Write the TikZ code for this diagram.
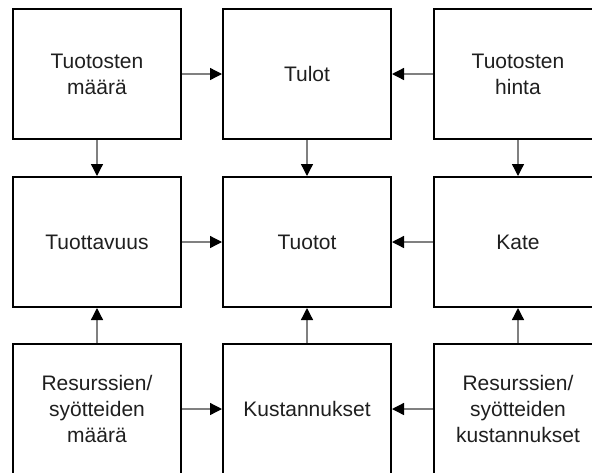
\documentclass[tikz,border=0pt]{standalone}
\usepackage{fontspec}
\setmainfont{Liberation Sans}
\usetikzlibrary{arrows.meta}

\begin{document}
\begin{tikzpicture}[x=1pt,y=-1pt,
  box/.style={draw=black, line width=2pt, fill=white,
    minimum width=168pt, minimum height=130pt, inner sep=0pt,
    align=center, text=black!88,
    font=\fontsize{21}{26}\selectfont},
  link/.style={draw=black!50, line width=1.3pt,
    -{Triangle[length=12pt,width=12pt,fill=black,color=black]}}]
  % page frame; the outer column and row run past its edges
  \useasboundingbox (0,0) rectangle (592,472);
  \clip (0,0) rectangle (592,472);
  \fill[white] (0,0) rectangle (592,472);

  % top row
  \node[box] (tm) at (97,74)  {Tuotosten\\määrä};
  \node[box] (tu) at (307,74) {Tulot};
  \node[box] (th) at (518,74) {Tuotosten\\hinta};
  % middle row
  \node[box] (tv) at (97,242)  {Tuottavuus};
  \node[box] (to) at (307,242) {Tuotot};
  \node[box] (ka) at (518,242) {Kate};
  % bottom row
  \node[box] (rm) at (97,409)  {Resurssien/\\syötteiden\\määrä};
  \node[box] (ku) at (307,409) {Kustannukset};
  \node[box] (rk) at (518,409) {Resurssien/\\syötteiden\\kustannukset};

  % connectors
  \draw[link] (tm.east) -- (tu.west);
  \draw[link] (th.west) -- (tu.east);
  \draw[link] (tv.east) -- (to.west);
  \draw[link] (ka.west) -- (to.east);
  \draw[link] (rm.east) -- (ku.west);
  \draw[link] (rk.west) -- (ku.east);

  \draw[link] (tm.south) -- (tv.north);
  \draw[link] (tu.south) -- (to.north);
  \draw[link] (th.south) -- (ka.north);
  \draw[link] (rm.north) -- (tv.south);
  \draw[link] (ku.north) -- (to.south);
  \draw[link] (rk.north) -- (ka.south);
\end{tikzpicture}
\end{document}
